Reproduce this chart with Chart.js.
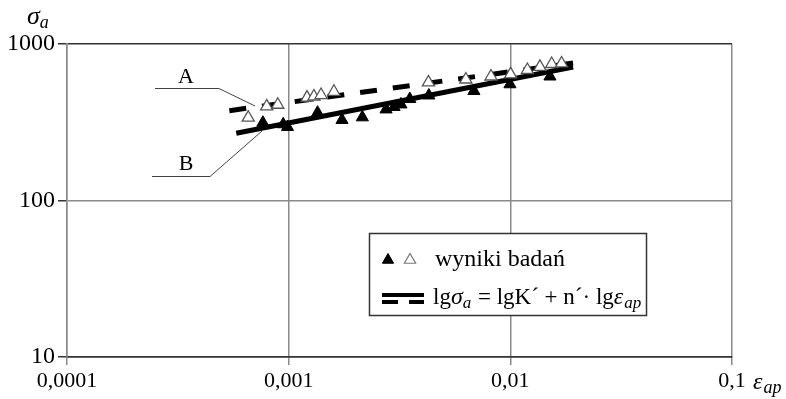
<!DOCTYPE html>
<html><head><meta charset="utf-8">
<style>html,body{margin:0;padding:0;background:#fff;}#wrap{width:786px;height:399px;}</style>
<script src="https://cdn.jsdelivr.net/npm/chart.js@4/dist/chart.umd.min.js"></script>
</head><body><div id="wrap"><canvas id="c" width="786" height="399"></canvas></div>
<script>
const xTicks = [0.0001, 0.001, 0.01, 0.1];
const xTickLabels = ['0,0001', '0,001', '0,01', '0,1'];
const yTicks = [10, 100, 1000];
const yTickLabels = ['10', '100', '1000'];

// series A (open triangles)
const strainA = [0.000657, 0.000796, 0.000893, 0.00121, 0.0013, 0.0014, 0.0016, 0.00427, 0.0063, 0.00818, 0.01003, 0.01194, 0.0136, 0.01536, 0.01703];
const stressA = [338, 399, 409, 454, 462, 472, 495, 568, 593, 620, 640, 682, 715, 745, 751];
// series B (filled triangles)
const strainB = [0.000765, 0.000945, 0.000988, 0.00135, 0.00174, 0.00215, 0.00275, 0.00299, 0.00321, 0.00352, 0.00429, 0.00685, 0.00996, 0.01509];
const stressB = [314, 307, 295, 364, 327, 340, 382, 396, 411, 445, 469, 501, 553, 620];
// fitted lines lg(sigma_a) = lgK' + n' lg(eps_ap)
const fitStrainA = [0.00054, 0.0192];
const fitStressA = [375, 756];
const fitStrainB = [0.00058, 0.0192];
const fitStressB = [269, 713];

const pts = (xs, ys) => xs.map((x, i) => ({x: x, y: ys[i]}));
const SERIF = '"Liberation Serif", "DejaVu Serif", serif';
Chart.defaults.font.family = SERIF;
Chart.defaults.color = '#000';

function tri(ctx, x, y, r, fill, stroke, lw) {
  ctx.beginPath();
  ctx.moveTo(x, y - r);
  ctx.lineTo(x + r * Math.sin(2 * Math.PI / 3), y - r * Math.cos(2 * Math.PI / 3));
  ctx.lineTo(x + r * Math.sin(4 * Math.PI / 3), y - r * Math.cos(4 * Math.PI / 3));
  ctx.closePath();
  ctx.fillStyle = fill; ctx.fill();
  ctx.strokeStyle = stroke; ctx.lineWidth = lw; ctx.stroke();
}

function runs(ctx, x, y, parts) {
  for (const p of parts) {
    ctx.font = p.f;
    ctx.fillText(p.t, x, y + (p.dy || 0));
    x += ctx.measureText(p.t).width + (p.sp || 0);
  }
  return x;
}

const extras = {
  id: 'extras',
  afterDraw(chart) {
    const ctx = chart.ctx;
    ctx.save();
    ctx.fillStyle = '#000';
    ctx.textBaseline = 'alphabetic';
    ctx.textAlign = 'left';
    // axis titles
    runs(ctx, 27, 24, [{t: 'σ', f: 'italic 26px ' + SERIF}, {t: 'a', f: 'italic 18px ' + SERIF, dy: 4}]);
    runs(ctx, 753, 389, [{t: 'ε', f: 'italic 24px ' + SERIF, sp: 1}, {t: 'ap', f: 'italic 18px ' + SERIF, dy: 4}]);
    // A / B annotations
    ctx.strokeStyle = '#444'; ctx.lineWidth = 1;
    ctx.beginPath(); ctx.moveTo(155, 88.5); ctx.lineTo(219, 88.5); ctx.lineTo(255, 106); ctx.stroke();
    ctx.beginPath(); ctx.moveTo(152, 176.5); ctx.lineTo(210, 176.5); ctx.lineTo(262, 131); ctx.stroke();
    ctx.font = '22px ' + SERIF; ctx.textAlign = 'center';
    ctx.fillText('A', 186, 83);
    ctx.fillText('B', 186, 170);
    ctx.textAlign = 'left';
    // legend box
    ctx.fillStyle = '#fff';
    ctx.fillRect(369.5, 233.5, 277, 82);
    ctx.strokeStyle = '#333'; ctx.lineWidth = 1.5;
    ctx.strokeRect(369.5, 233.5, 277, 82);
    tri(ctx, 388, 260, 6.5, '#000', '#000', 1);
    tri(ctx, 410, 260, 6.5, '#fff', '#777', 1.2);
    ctx.fillStyle = '#000';
    runs(ctx, 435, 266, [{t: 'wyniki badań', f: '24px ' + SERIF}]);
    ctx.strokeStyle = '#000'; ctx.lineWidth = 4;
    ctx.beginPath(); ctx.moveTo(382, 295); ctx.lineTo(424, 295); ctx.stroke();
    ctx.beginPath(); ctx.moveTo(382, 302); ctx.lineTo(398, 302); ctx.moveTo(409, 302); ctx.lineTo(424, 302); ctx.stroke();
    runs(ctx, 433, 304, [
      {t: 'lg', f: '23px ' + SERIF},
      {t: 'σ', f: 'italic 24px ' + SERIF},
      {t: 'a', f: 'italic 17px ' + SERIF, dy: 4, sp: 1},
      {t: ' = lgK´ + n´· lg', f: '23px ' + SERIF},
      {t: 'ε', f: 'italic 24px ' + SERIF, sp: 1},
      {t: 'ap', f: 'italic 17px ' + SERIF, dy: 4}
    ]);
    ctx.restore();
  }
};

new Chart(document.getElementById('c'), {
  type: 'scatter',
  data: {
    datasets: [
      {label: 'A', data: pts(strainA, stressA), pointStyle: 'triangle', pointRadius: 7, backgroundColor: '#fff', borderColor: '#555', borderWidth: 1.3, order: 0},
      {label: 'B', data: pts(strainB, stressB), pointStyle: 'triangle', pointRadius: 7, backgroundColor: '#000', borderColor: '#000', borderWidth: 1, order: 1},
      {label: 'fitA', data: pts(fitStrainA, fitStressA), showLine: true, borderDash: [17, 16], borderWidth: 5, borderColor: '#000', pointRadius: 0, order: 2},
      {label: 'fitB', data: pts(fitStrainB, fitStressB), showLine: true, borderWidth: 5, borderColor: '#000', pointRadius: 0, order: 3}
    ]
  },
  options: {
    responsive: false,
    animation: false,
    events: [],
    layout: {padding: {left: 0, right: 54, top: 44, bottom: 0}},
    plugins: {legend: {display: false}, tooltip: {enabled: false}},
    scales: {
      x: {
        type: 'logarithmic', min: 0.0001, max: 0.1,
        afterBuildTicks: s => { s.ticks = xTicks.map(v => ({value: v})); },
        afterFit: s => { s.height = 42; },
        ticks: {autoSkip: false, maxRotation: 0, padding: 3, font: {size: 22}, color: '#000',
          callback: (v, i) => xTickLabels[i]},
        grid: {color: '#8a8a8a', lineWidth: 1.5, tickLength: 8, tickColor: '#8a8a8a'},
        border: {display: true, color: '#333', width: 1.5}
      },
      y: {
        type: 'logarithmic', min: 10, max: 1000,
        afterBuildTicks: s => { s.ticks = yTicks.map(v => ({value: v})); },
        afterFit: s => { s.width = 67; },
        ticks: {autoSkip: false, padding: 3, font: {size: 24}, color: '#000',
          callback: (v, i) => yTickLabels[i]},
        grid: {color: c => (c.tick && c.tick.value === 100) ? '#8a8a8a' : '#333', lineWidth: 1.5, tickLength: 9, tickColor: '#333'},
        border: {display: true, color: '#8a8a8a', width: 1.5}
      }
    }
  },
  plugins: [extras]
});
</script>
</body></html>
